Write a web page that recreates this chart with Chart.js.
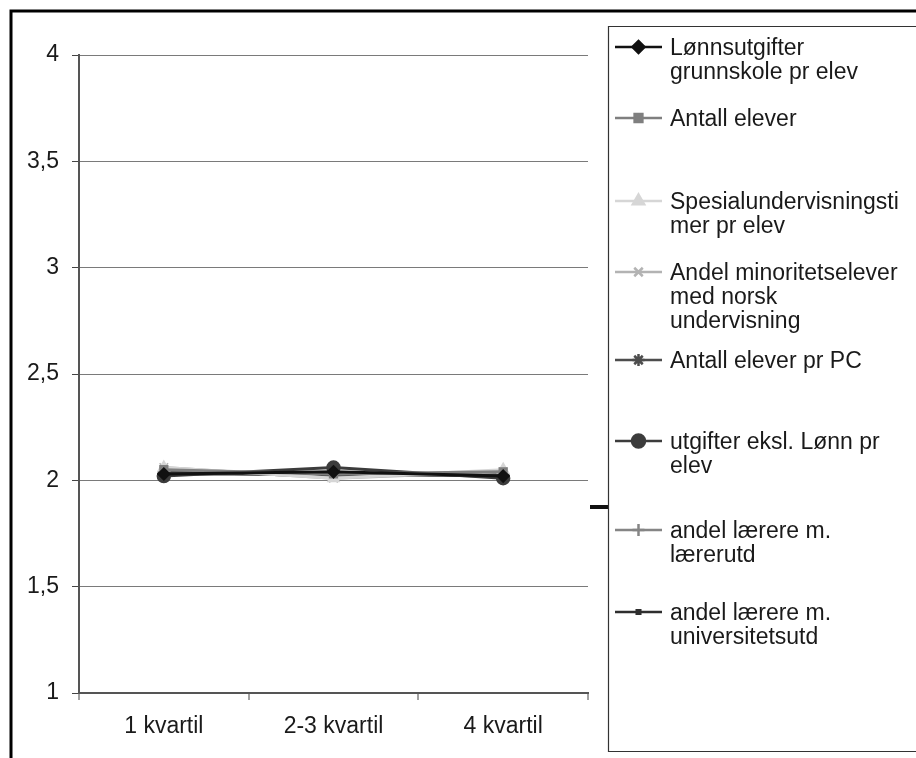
<!DOCTYPE html>
<html>
<head>
<meta charset="utf-8">
<script src="https://cdn.jsdelivr.net/npm/chart.js@4"></script>
<style>
  html, body { margin: 0; padding: 0; background: #fff; }
  #wrap { width: 916px; height: 758px; }
</style>
</head>
<body>
<div id="wrap"><canvas id="lineChart" width="916" height="758"></canvas></div>
<script>
// Data
const categories = ['1 kvartil', '2-3 kvartil', '4 kvartil'];
const seriesNames = [
    'Lønnsutgifter\ngrunnskole pr elev',
    'Antall elever',
    'Spesialundervisningsti\nmer pr elev',
    'Andel minoritetselever\nmed norsk\nundervisning',
    'Antall elever pr PC',
    'utgifter eksl. Lønn pr\nelev',
    'andel lærere m.\nlærerutd',
    'andel lærere m.\nuniversitetsutd'
];
const lonnsutgifter = [2.03, 2.04, 2.02];
const antallElever = [2.05, 2.03, 2.04];
const spesialundervisning = [2.06, 2.01, 2.05];
const minoritetselever = [2.06, 2.01, 2.04];
const eleverPrPC = [2.04, 2.02, 2.03];
const utgifterEksl = [2.02, 2.06, 2.01];
const laererutd = [2.04, 2.02, 2.03];
const universitetsutd = [2.03, 2.03, 2.02];
const yTicks = [1, 1.5, 2, 2.5, 3, 3.5, 4];

const seriesValues = [lonnsutgifter, antallElever, spesialundervisning, minoritetselever,
    eleverPrPC, utgifterEksl, laererutd, universitetsutd];
const seriesColors = ['#111111', '#7f7f7f', '#d6d6d6', '#b3b3b3', '#4d4d4d', '#3c3c3c', '#858585', '#2e2e2e'];
const seriesMarkers = ['rectRot', 'rect', 'triangle', 'crossRot', 'star', 'circle', 'cross', 'rect'];
const markerSizes = [6, 5.5, 6.5, 6, 6, 6.5, 6, 2.5];

const FONT = '"Liberation Sans", Arial, sans-serif';

// decorations: white background, outer frame, legend box
const framePlugin = {
    id: 'frame',
    beforeDraw(chart) {
        const c = chart.ctx;
        c.save();
        c.fillStyle = '#fff';
        c.fillRect(0, 0, chart.width, chart.height);
        c.restore();
    },
    afterDraw(chart) {
        const c = chart.ctx;
        const area = chart.chartArea;
        c.save();
        // outer frame (cut off at right and bottom)
        c.strokeStyle = '#000';
        c.lineWidth = 3;
        c.beginPath();
        c.moveTo(11, chart.height + 5);
        c.lineTo(11, 11);
        c.lineTo(chart.width + 5, 11);
        c.stroke();

        // little leader bar
        c.fillStyle = '#111';
        c.fillRect(area.right + 2, 505, 18, 4);

        // legend box
        c.strokeStyle = '#333';
        c.lineWidth = 1.2;
        c.beginPath();
        c.moveTo(chart.width + 5, 26.5);
        c.lineTo(608.5, 26.5);
        c.lineTo(608.5, 751.5);
        c.lineTo(chart.width + 5, 751.5);
        c.stroke();

        const rowY = [47, 118, 201, 272, 360, 441, 530, 612];
        c.font = '23px ' + FONT;
        c.textBaseline = 'middle';
        chart.data.datasets.forEach((ds, i) => {
            const y = rowY[i];
            c.strokeStyle = ds.borderColor;
            c.lineWidth = 2.5;
            c.beginPath();
            c.moveTo(615, y);
            c.lineTo(662, y);
            c.stroke();
            c.fillStyle = ds.pointBackgroundColor;
            c.strokeStyle = ds.pointBorderColor;
            Chart.helpers.drawPoint(c, {
                pointStyle: ds.pointStyle,
                radius: ds.pointRadius,
                borderWidth: 1.5
            }, 638.5, y);
            c.fillStyle = '#1a1a1a';
            ds.label.split('\n').forEach((line, k) => {
                c.fillText(line, 670, y + 2 + k * 24);
            });
        });
        c.restore();
    }
};

const ctx = document.getElementById('lineChart').getContext('2d');
const lineChart = new Chart(ctx, {
    type: 'line',
    data: {
        labels: categories,
        datasets: seriesValues.map((vals, i) => ({
            label: seriesNames[i],
            data: vals,
            borderColor: seriesColors[i],
            backgroundColor: seriesColors[i],
            pointBackgroundColor: seriesColors[i],
            pointBorderColor: seriesColors[i],
            pointStyle: seriesMarkers[i],
            pointRadius: markerSizes[i],
            pointBorderWidth: 1.5,
            borderWidth: 3,
            tension: 0
        }))
    },
    options: {
        responsive: false,
        animation: false,
        events: [],
        layout: {
            padding: { left: 10, right: 328, top: 55, bottom: 0 }
        },
        plugins: {
            legend: { display: false },
            tooltip: { enabled: false }
        },
        scales: {
            x: {
                offset: true,
                afterFit: (s) => { s.height = 65; },
                grid: {
                    offset: true,
                    drawOnChartArea: true,
                    color: (c) => c.index === 3 ? '#8c8c8c' : 'rgba(0,0,0,0)',
                    lineWidth: 2,
                    tickColor: '#444',
                    tickLength: 7,
                    tickWidth: 1
                },
                border: { color: '#555', width: 2 },
                ticks: {
                    color: '#1a1a1a',
                    padding: 13,
                    font: { family: FONT, size: 23 }
                }
            },
            y: {
                min: 1,
                max: 4,
                afterFit: (s) => { s.width = 69; },
                afterBuildTicks: (s) => { s.ticks = yTicks.map(v => ({ value: v })); },
                grid: {
                    color: '#7a7a7a',
                    lineWidth: 1,
                    tickColor: '#444',
                    tickLength: 7
                },
                border: { color: '#555', width: 2 },
                ticks: {
                    color: '#1a1a1a',
                    padding: 13,
                    font: { family: FONT, size: 23 },
                    callback: (v) => String(v).replace('.', ',')
                }
            }
        }
    },
    plugins: [framePlugin]
});
</script>
</body>
</html>
